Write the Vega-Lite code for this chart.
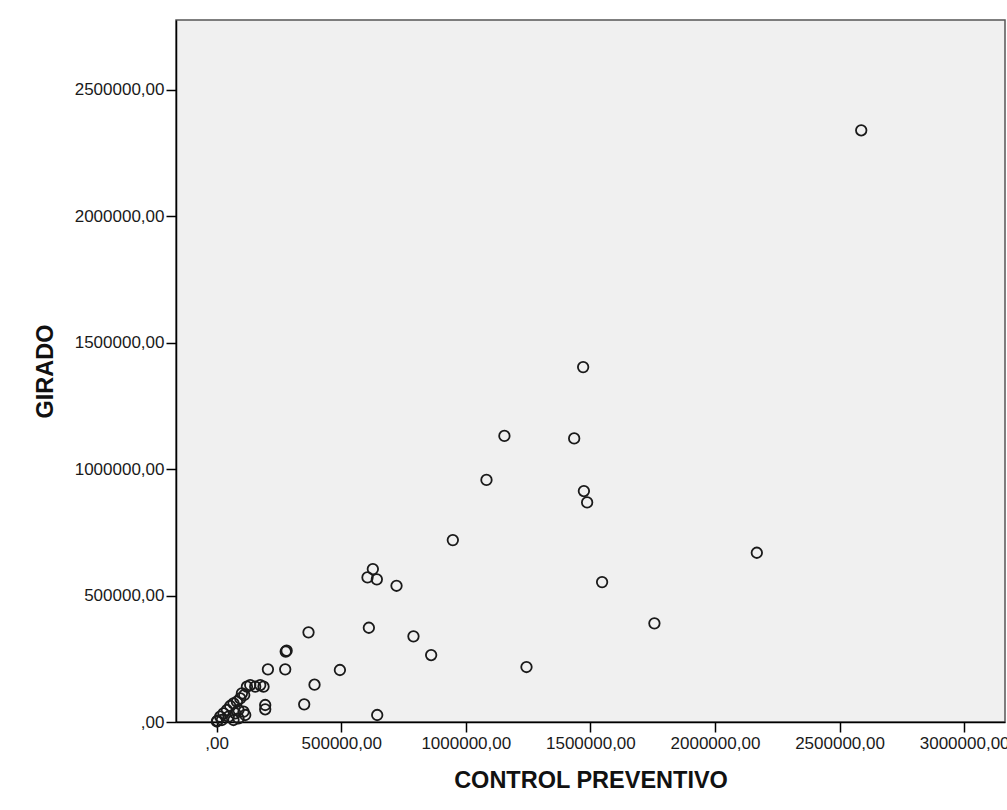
{
  "$schema": "https://vega.github.io/schema/vega-lite/v6.json",
  "autosize": "none",
  "width": 829,
  "height": 702,
  "padding": {"left": 176, "top": 20, "right": 2, "bottom": 88},
  "background": "white",
  "config": {
    "view": {"fill": "#F0F0F0", "stroke": "#555555", "strokeWidth": 1.5},
    "font": "Liberation Sans"
  },
  "data": {
    "values": [
      {"cp": 2587000, "girado": 2339000},
      {"cp": 1471000, "girado": 1403000},
      {"cp": 1155000, "girado": 1131000},
      {"cp": 1435000, "girado": 1121000},
      {"cp": 1083000, "girado": 957000},
      {"cp": 1474000, "girado": 913000},
      {"cp": 1487000, "girado": 868000},
      {"cp": 948000, "girado": 719000},
      {"cp": 2168000, "girado": 669000},
      {"cp": 627000, "girado": 604500},
      {"cp": 605600, "girado": 571700},
      {"cp": 643000, "girado": 563800},
      {"cp": 722000, "girado": 538500},
      {"cp": 1547000, "girado": 553000},
      {"cp": 1757000, "girado": 390000},
      {"cp": 368800, "girado": 354400},
      {"cp": 611000, "girado": 372600},
      {"cp": 790000, "girado": 338600},
      {"cp": 861000, "girado": 264700},
      {"cp": 1243600, "girado": 217300},
      {"cp": 494800, "girado": 205500},
      {"cp": 392900, "girado": 147400},
      {"cp": 351500, "girado": 69900},
      {"cp": 644500, "girado": 27700},
      {"cp": 277300, "girado": 278500},
      {"cp": 281000, "girado": 282000},
      {"cp": 275300, "girado": 208200},
      {"cp": 205900, "girado": 208200},
      {"cp": 195000, "girado": 67200},
      {"cp": 195000, "girado": 50200},
      {"cp": 110800, "girado": 106700},
      {"cp": 1000, "girado": 2000},
      {"cp": 3000, "girado": 5000},
      {"cp": 14400, "girado": 20900},
      {"cp": 27700, "girado": 34400},
      {"cp": 41300, "girado": 47400},
      {"cp": 54600, "girado": 63200},
      {"cp": 67800, "girado": 73900},
      {"cp": 81500, "girado": 80200},
      {"cp": 94700, "girado": 93600},
      {"cp": 101500, "girado": 113400},
      {"cp": 121600, "girado": 139500},
      {"cp": 134800, "girado": 146100},
      {"cp": 154900, "girado": 139500},
      {"cp": 175000, "girado": 146100},
      {"cp": 188200, "girado": 139500},
      {"cp": 47800, "girado": 20900},
      {"cp": 74600, "girado": 34400},
      {"cp": 87900, "girado": 47400},
      {"cp": 108000, "girado": 40700},
      {"cp": 114800, "girado": 27700},
      {"cp": 67800, "girado": 7900},
      {"cp": 21300, "girado": 7900},
      {"cp": 87900, "girado": 14600}
    ]
  },
  "mark": {"type": "point", "shape": "circle", "filled": false, "stroke": "#1a1a1a", "strokeWidth": 1.8, "size": 110, "opacity": 1},
  "encoding": {
    "x": {
      "field": "cp",
      "type": "quantitative",
      "scale": {"domain": [-163000, 3164000], "nice": false, "zero": false},
      "axis": {
        "title": "CONTROL PREVENTIVO",
        "values": [0, 500000, 1000000, 1500000, 2000000, 2500000, 3000000],
        "labelExpr": "datum.value == 0 ? ',00' : format(datum.value, 'd') + ',00'",
        "grid": false,
        "domainColor": "#000000",
        "domainWidth": 1.5,
        "tickColor": "#000000",
        "tickWidth": 1.5,
        "tickSize": 10,
        "labelFontSize": 17,
        "labelColor": "#1a1a1a",
        "labelPadding": 3,
        "labelFlush": false,
        "labelOverlap": false,
        "titleFontSize": 23.5,
        "titleFontWeight": "bold",
        "titleColor": "#111111",
        "titlePadding": 17
      }
    },
    "y": {
      "field": "girado",
      "type": "quantitative",
      "scale": {"domain": [0, 2775000], "nice": false, "zero": false},
      "axis": {
        "title": "GIRADO",
        "values": [0, 500000, 1000000, 1500000, 2000000, 2500000],
        "labelExpr": "datum.value == 0 ? ',00' : format(datum.value, 'd') + ',00'",
        "grid": false,
        "domainColor": "#000000",
        "domainWidth": 1.5,
        "tickColor": "#000000",
        "tickWidth": 1.5,
        "tickSize": 10,
        "labelFontSize": 17,
        "labelColor": "#1a1a1a",
        "labelPadding": 2,
        "labelFlush": false,
        "labelOverlap": false,
        "titleFontSize": 23.5,
        "titleFontWeight": "bold",
        "titleColor": "#111111",
        "titlePadding": 17
      }
    }
  }
}
